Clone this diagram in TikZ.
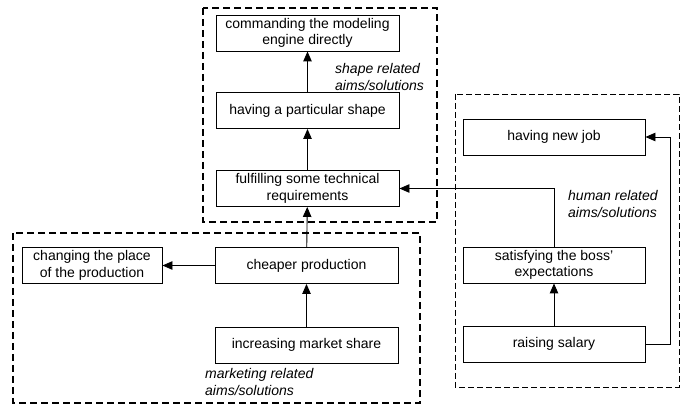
\documentclass[tikz,border=0pt]{standalone}
\usepackage{fontspec}
\setmainfont{Liberation Sans}
\usetikzlibrary{arrows.meta}

\tikzset{
  aim/.style={draw, line width=0.9pt, minimum width=183pt, minimum height=36pt,
    inner sep=0pt, align=center, font=\fontsize{14}{16.5}\selectfont},
  grouplabel/.style={anchor=west, align=left, inner sep=0pt,
    font=\fontsize{14}{17}\selectfont\itshape},
  link/.style={line width=0.9pt, -{Triangle[length=10pt,width=8.5pt]}},
  heavygroup/.style={line width=1.8pt, dash pattern=on 7pt off 4pt},
  lightgroup/.style={line width=0.9pt, dash pattern=on 6pt off 3pt}
}

\begin{document}
\begin{tikzpicture}[x=1pt, y=-1pt]
\useasboundingbox (0,0) rectangle (689,406);

% groups
\draw[heavygroup] (203,8) rectangle (437,222);
\draw[heavygroup] (13,233) rectangle (420,403);
\draw[lightgroup] (455,94) rectangle (679,387);

% shape related aims
\node[aim] (cmd) at (307.5,33) {commanding the modeling\\engine directly};
\node[aim] (shape) at (307.5,110.5) {having a particular shape};
\node[aim] (fulfil) at (307.5,188.5) {fulfilling some technical\\requirements};

% marketing related aims
\node[aim] (cheaper) at (306.5,265.5) {cheaper production};
\node[aim] (market) at (306.5,345) {increasing market share};
\node[aim, minimum width=140pt] (place) at (92,265.5) {changing the place\\of the production};

% human related aims
\node[aim, minimum width=182pt] (newjob) at (554,137) {having new job};
\node[aim, minimum width=182pt] (boss) at (554,265) {satisfying the boss'\\expectations};
\node[aim, minimum width=182pt] (salary) at (554,344) {raising salary};

% group captions
\node[grouplabel] (shapelbl) at (335,76.5) {shape related\\aims/solutions};
\node[grouplabel] (humanlbl) at (568,203.5) {human related\\aims/solutions};
\node[grouplabel] (marklbl) at (205,382) {marketing related\\aims/solutions};

% connectors
\draw[link] (shape) -- (cmd);
\draw[link] (fulfil) -- (shape);
\draw[link] (cheaper) -- (fulfil);
\draw[link] (market) -- (cheaper);
\draw[link] (cheaper) -- (place);
\draw[link] (salary) -- (boss);
\draw[link] (boss.north) |- (fulfil.east);
\coordinate (turn) at ([xshift=25pt]salary.east);
\draw[link] (salary.east) -- (turn) |- (newjob.east);
\end{tikzpicture}
\end{document}
